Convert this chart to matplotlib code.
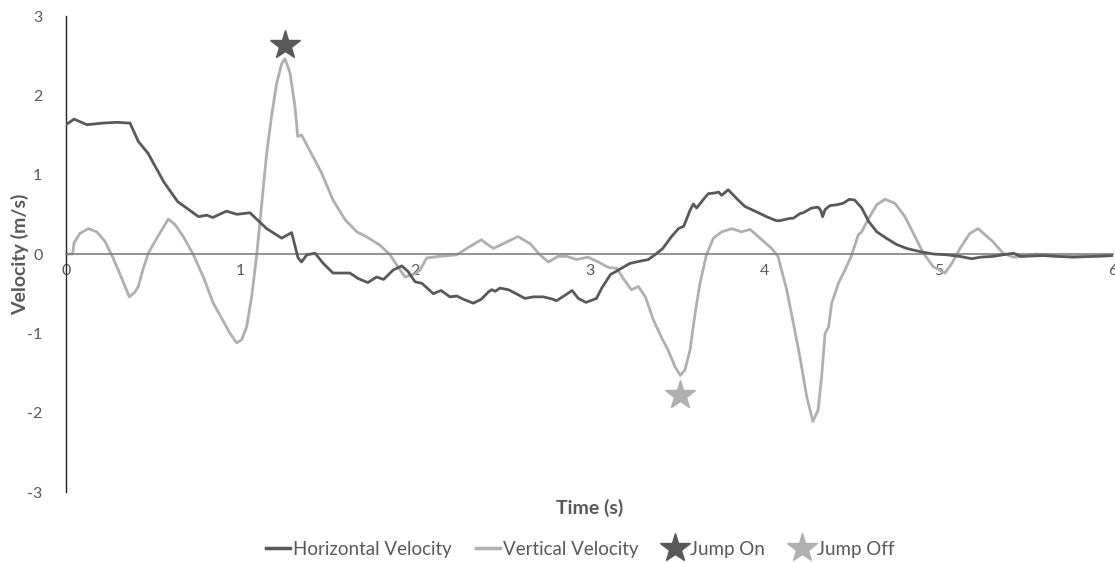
import matplotlib.pyplot as plt
from matplotlib.lines import Line2D

plt.rcParams['font.family'] = ['Lato', 'DejaVu Sans']
plt.rcParams['axes.unicode_minus'] = False

# horizontal velocity of the rider (m/s)
t_h = [0.0, 0.046, 0.12, 0.21, 0.29, 0.367, 0.414, 0.47, 0.56, 0.64, 0.76, 0.806, 0.84, 0.92,
       0.98, 1.054, 1.15, 1.236, 1.293, 1.33, 1.35, 1.38, 1.427, 1.475, 1.53, 1.57, 1.627, 1.675,
       1.73, 1.78, 1.82, 1.876, 1.924, 1.96, 2.0, 2.04, 2.105, 2.15, 2.2, 2.24, 2.277, 2.334,
       2.38, 2.42, 2.44, 2.46, 2.487, 2.535, 2.58, 2.63, 2.68, 2.735, 2.79, 2.81, 2.86, 2.90,
       2.936, 2.98, 3.04, 3.07, 3.12, 3.175, 3.23, 3.29, 3.337, 3.375, 3.42, 3.47, 3.51, 3.54,
       3.576, 3.595, 3.614, 3.65, 3.68, 3.72, 3.74, 3.758, 3.795, 3.843, 3.89, 3.958, 4.015,
       4.07, 4.09, 4.15, 4.168, 4.206, 4.225, 4.273, 4.31, 4.325, 4.336, 4.35, 4.378, 4.416,
       4.454, 4.49, 4.52, 4.56, 4.6, 4.646, 4.70, 4.76, 4.818, 4.894, 4.97, 5.047, 5.123, 5.19,
       5.24, 5.31, 5.43, 5.47, 5.6, 5.77, 6.0]
v_h = [1.63, 1.70, 1.63, 1.65, 1.66, 1.65, 1.42, 1.27, 0.91, 0.66, 0.47, 0.49, 0.46, 0.54,
       0.50, 0.52, 0.32, 0.20, 0.27, -0.05, -0.10, -0.01, 0.01, -0.12, -0.24, -0.24, -0.24, -0.31,
       -0.36, -0.29, -0.32, -0.20, -0.15, -0.22, -0.35, -0.37, -0.50, -0.46, -0.54, -0.53, -0.57, -0.62,
       -0.57, -0.48, -0.45, -0.47, -0.43, -0.45, -0.50, -0.56, -0.54, -0.54, -0.57, -0.59, -0.52, -0.46,
       -0.56, -0.61, -0.56, -0.43, -0.26, -0.19, -0.12, -0.09, -0.07, -0.01, 0.07, 0.22, 0.32, 0.35,
       0.55, 0.63, 0.58, 0.68, 0.76, 0.77, 0.78, 0.74, 0.81, 0.70, 0.60, 0.53, 0.47,
       0.42, 0.42, 0.45, 0.45, 0.51, 0.52, 0.58, 0.59, 0.55, 0.47, 0.56, 0.61, 0.62,
       0.64, 0.69, 0.68, 0.58, 0.41, 0.28, 0.20, 0.12, 0.07, 0.03, 0.00, -0.01, -0.03, -0.06,
       -0.04, -0.03, 0.01, -0.03, -0.02, -0.04, -0.02]

# vertical velocity of the rider (m/s)
t_v = [0.0, 0.038, 0.046, 0.08, 0.128, 0.176, 0.223, 0.27, 0.32, 0.363, 0.395, 0.414, 0.443,
       0.472, 0.51, 0.548, 0.586, 0.625, 0.672, 0.73, 0.787, 0.844, 0.892, 0.94, 0.978, 1.007,
       1.035, 1.064, 1.093, 1.12, 1.15, 1.18, 1.207, 1.236, 1.255, 1.284, 1.312, 1.328, 1.35,
       1.398, 1.465, 1.53, 1.6, 1.666, 1.72, 1.8, 1.857, 1.914, 1.943, 2.0, 2.03, 2.067, 2.14,
       2.24, 2.296, 2.38, 2.41, 2.45, 2.506, 2.59, 2.66, 2.716, 2.764, 2.82, 2.87, 2.926, 2.99,
       3.05, 3.108, 3.156, 3.2, 3.24, 3.28, 3.32, 3.366, 3.414, 3.45, 3.49, 3.52, 3.547, 3.576,
       3.605, 3.633, 3.67, 3.71, 3.758, 3.815, 3.87, 3.92, 3.977, 4.044, 4.08, 4.13, 4.168,
       4.206, 4.245, 4.28, 4.31, 4.33, 4.35, 4.37, 4.388, 4.426, 4.464, 4.50, 4.54, 4.56, 4.6,
       4.646, 4.693, 4.75, 4.808, 4.865, 4.913, 4.97, 5.037, 5.076, 5.123, 5.18, 5.227, 5.31,
       5.37, 5.43, 5.49, 5.56, 5.68, 5.83, 6.0]
v_v = [0.0, 0.0, 0.14, 0.26, 0.32, 0.28, 0.16, -0.05, -0.31, -0.54, -0.48, -0.41, -0.18,
       0.01, 0.16, 0.30, 0.44, 0.37, 0.22, -0.01, -0.29, -0.62, -0.81, -1.00, -1.12, -1.08,
       -0.92, -0.54, -0.01, 0.60, 1.27, 1.77, 2.15, 2.40, 2.46, 2.28, 1.86, 1.48, 1.50,
       1.30, 1.02, 0.68, 0.43, 0.28, 0.22, 0.11, -0.01, -0.20, -0.29, -0.25, -0.20, -0.05, -0.03,
       -0.01, 0.07, 0.18, 0.13, 0.07, 0.13, 0.22, 0.13, -0.01, -0.10, -0.03, -0.03, -0.07, -0.04,
       -0.10, -0.17, -0.18, -0.33, -0.45, -0.41, -0.54, -0.83, -1.06, -1.21, -1.42, -1.53, -1.46, -1.21,
       -0.75, -0.37, -0.01, 0.20, 0.28, 0.32, 0.28, 0.31, 0.20, 0.07, -0.03, -0.45, -0.87,
       -1.30, -1.80, -2.11, -1.97, -1.55, -1.00, -0.92, -0.62, -0.37, -0.20, -0.03, 0.24, 0.28, 0.45,
       0.62, 0.69, 0.64, 0.47, 0.22, 0.01, -0.16, -0.24, -0.12, 0.07, 0.26, 0.32, 0.16,
       0.01, -0.04, -0.03, 0.0, -0.03, -0.03, -0.02]

# jump events
jump_on = (1.255, 2.64)
jump_off = (3.52, -1.78)

dark = '#595959'
light = '#b0b0b0'
text_col = '#595959'

fig = plt.figure(figsize=(11.15, 5.62), dpi=100)
ax = fig.add_axes([66 / 1115, 1 - 492 / 562, (1113 - 66) / 1115, 476 / 562])

ax.plot(t_h, v_h, color=dark, lw=2, label='Horizontal Velocity', zorder=3)
ax.plot(t_v, v_v, color=light, lw=2, label='Vertical Velocity', zorder=2)
ax.plot(*jump_on, marker='*', ms=22, color=dark, ls='none', label='Jump On', zorder=4)
ax.plot(*jump_off, marker='*', ms=22, color=light, ls='none', label='Jump Off', zorder=4)

ax.set_xlim(0, 6)
ax.set_ylim(-3, 3)
ax.set_xticks(range(0, 7))
ax.set_yticks(range(-3, 4))

for side in ['top', 'right']:
    ax.spines[side].set_visible(False)
ax.spines['bottom'].set_position(('data', 0))
ax.spines['bottom'].set_color('#808080')
ax.spines['bottom'].set_linewidth(1.2)
ax.spines['left'].set_color('#222222')
ax.spines['left'].set_linewidth(1)
ax.tick_params(axis='x', length=0, pad=7, labelsize=11.5, labelcolor=text_col)
ax.tick_params(axis='y', length=0, pad=17, labelsize=11.5, labelcolor=text_col)

fig.text(20 / 1115, 1 - 254 / 562, 'Velocity (m/s)', rotation=90, ha='center', va='center',
         fontsize=14, fontweight='bold', color=text_col)
fig.text(590 / 1115, 1 - 508 / 562, 'Time (s)', ha='center', va='center',
         fontsize=14, fontweight='bold', color=text_col)

handles = [Line2D([], [], color=dark, lw=2.5),
           Line2D([], [], color=light, lw=2.5),
           Line2D([], [], color=dark, marker='*', ms=22, ls='none'),
           Line2D([], [], color=light, marker='*', ms=22, ls='none')]
labels = ['Horizontal Velocity', 'Vertical Velocity', 'Jump On', 'Jump Off']
leg = fig.legend(handles, labels, loc='center', bbox_to_anchor=(580 / 1115, 1 - 549 / 562),
                 ncol=4, frameon=False, fontsize=13.5, handlelength=1.3, handletextpad=0.15,
                 columnspacing=1.3)
for txt in leg.get_texts():
    txt.set_color(text_col)

fig.savefig('out.png', dpi=100)
